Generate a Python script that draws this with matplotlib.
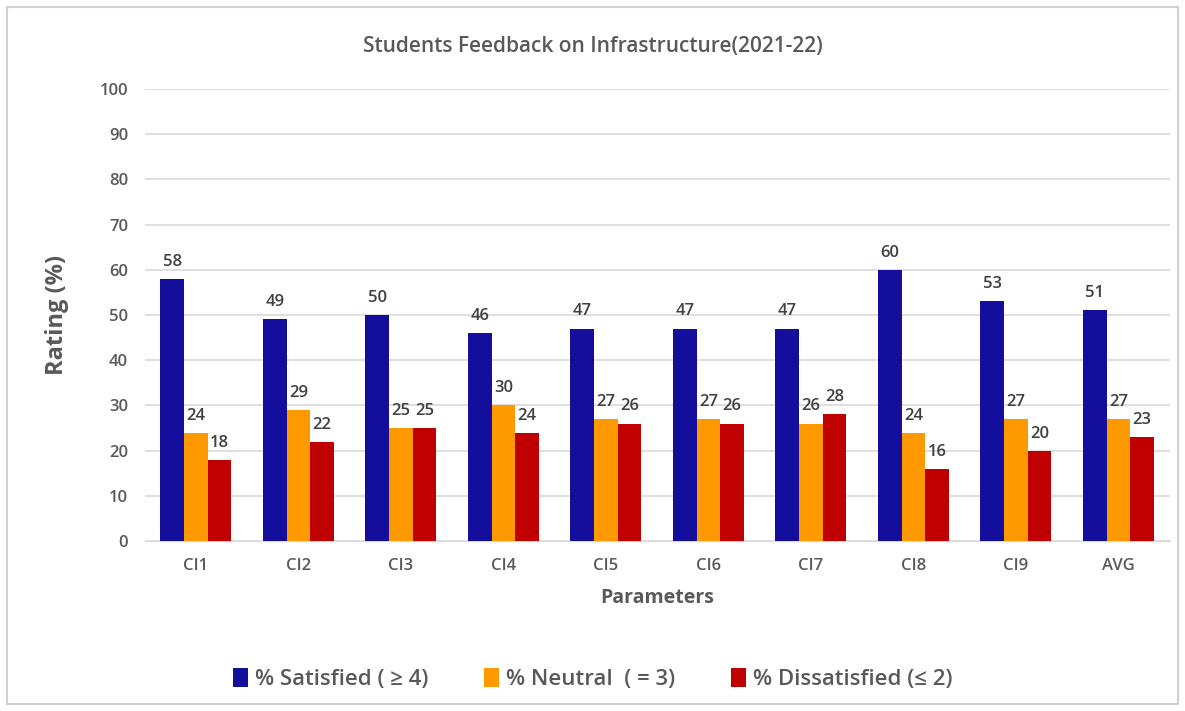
import matplotlib.pyplot as plt
import numpy as np

plt.rcParams['font.family'] = ['Open Sans', 'DejaVu Sans']

categories = ['CI1', 'CI2', 'CI3', 'CI4', 'CI5', 'CI6', 'CI7', 'CI8', 'CI9', 'AVG']
satisfied = [58, 49, 50, 46, 47, 47, 47, 60, 53, 51]
neutral = [24, 29, 25, 30, 27, 27, 26, 24, 27, 27]
dissatisfied = [18, 22, 25, 24, 26, 26, 28, 16, 20, 23]
series_names = ['% Satisfied ( \u2265 4)', '% Neutral  ( = 3)', '% Dissatisfied (\u2264 2)']
colors = ['#140E9C', '#FF9900', '#C00000']
text_gray = '#595959'

fig = plt.figure(figsize=(11.85, 7.11), dpi=100)
ax = fig.add_axes([0.122, 0.239, 0.865, 0.636])

x = np.arange(len(categories))
w = 0.23
for i, (vals, name) in enumerate(zip([satisfied, neutral, dissatisfied], series_names)):
    pos = x + (i - 1) * w
    ax.bar(pos, vals, w, color=colors[i], label=name, zorder=3)
    for p, v in zip(pos, vals):
        ax.text(p, v + 2, str(v), ha='center', va='bottom', fontsize=12,
                color='#404040', fontweight='semibold', zorder=4)

ax.set_ylim(0, 100)
ax.set_xlim(-0.5, len(categories) - 0.5)
ax.set_yticks(range(0, 101, 10))
ax.set_xticks(x)
ax.set_xticklabels(categories)
ax.tick_params(axis='both', length=0, labelsize=12, labelcolor=text_gray, pad=12)
for lbl in ax.get_xticklabels() + ax.get_yticklabels():
    lbl.set_fontweight('semibold')
ax.grid(axis='y', color='#D9D9D9', linewidth=1.2, zorder=0)
for s in ['top', 'right', 'left']:
    ax.spines[s].set_visible(False)
ax.spines['bottom'].set_color('#D9D9D9')

ax.set_xlabel('Parameters', fontsize=14, fontweight='bold', color=text_gray, labelpad=10)
ax.set_ylabel('Rating (%)', fontsize=17, fontweight='bold', color=text_gray, labelpad=22)
fig.text(0.5, 0.934, 'Students Feedback on Infrastructure(2021-22)', ha='center',
         va='center', fontsize=15, color=text_gray, fontweight='semibold')

fig.legend(loc='center', bbox_to_anchor=(0.5, 0.045), ncol=3, frameon=False,
           prop={'size': 16, 'weight': 'semibold'}, labelcolor=text_gray,
           handlelength=0.7, handleheight=0.9, handletextpad=0.3, columnspacing=2.5)

border = plt.Rectangle((0.006, 0.01), 0.988, 0.98, transform=fig.transFigure,
                       fill=False, edgecolor='#D0D0D0', linewidth=1.5)
fig.patches.append(border)

fig.savefig('out.png', dpi=100)
